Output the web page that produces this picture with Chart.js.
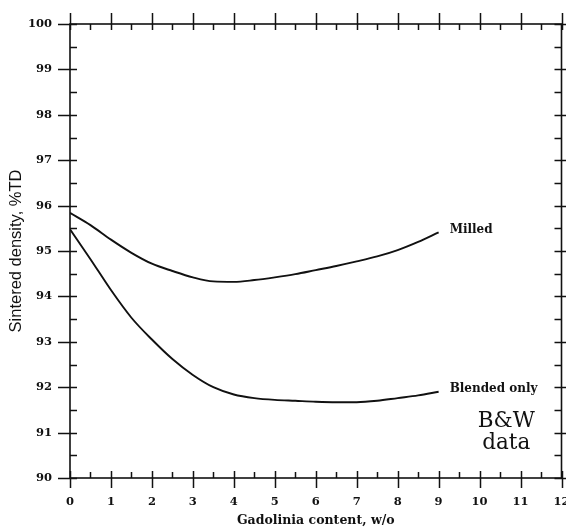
<!DOCTYPE html>
<html>
<head>
<meta charset="utf-8">
<script src="https://cdn.jsdelivr.net/npm/chart.js@4.4.1/dist/chart.umd.min.js"></script>
<style>
  html, body { margin: 0; padding: 0; background: #ffffff; }
  #wrap { width: 566px; height: 529px; }
</style>
</head>
<body>
<div id="wrap"><canvas id="c" width="566" height="529"></canvas></div>
<script>
// ---- data ----
const gadoliniaContent = [0, 0.5, 1, 1.5, 2, 2.5, 3, 3.5, 4, 4.5, 5, 5.5, 6, 6.5, 7, 7.5, 8, 8.5, 9];
const milledDensity = [95.84, 95.57, 95.25, 94.96, 94.72, 94.56, 94.42, 94.33, 94.32, 94.36, 94.42, 94.49, 94.58, 94.67, 94.77, 94.88, 95.02, 95.20, 95.41];
const blendedDensity = [95.48, 94.82, 94.14, 93.53, 93.05, 92.62, 92.27, 92.00, 91.84, 91.76, 91.72, 91.70, 91.68, 91.67, 91.67, 91.70, 91.76, 91.82, 91.90];
const seriesNames = ['Milled', 'Blended only'];
const xTickValues = [0, 1, 2, 3, 4, 5, 6, 7, 8, 9, 10, 11, 12];
const yTickValues = [90, 91, 92, 93, 94, 95, 96, 97, 98, 99, 100];
const xMinorValues = [0.5, 1.5, 2.5, 3.5, 4.5, 5.5, 6.5, 7.5, 8.5, 9.5, 10.5, 11.5];
const yMinorValues = [90.5, 91.5, 92.5, 93.5, 94.5, 95.5, 96.5, 97.5, 98.5, 99.5];
const xTitle = 'Gadolinia content, w/o';
const yTitle = 'Sintered density, %TD';
const sourceNote = ['B&W', 'data'];

function toPoints(xs, ys) { return xs.map((x, i) => ({ x: x, y: ys[i] })); }

// ---- plugin: frame, ticks on all four sides, annotations ----
const framePlugin = {
  id: 'frame',
  afterDatasetsDraw(chart) {
    const ctx = chart.ctx;
    const a = chart.chartArea;
    const xs = chart.scales.x, ys = chart.scales.y;
    ctx.save();
    ctx.strokeStyle = '#111';
    ctx.lineWidth = 1.6;
    ctx.strokeRect(a.left, a.top, a.right - a.left, a.bottom - a.top);
    ctx.lineWidth = 1.5;
    ctx.beginPath();
    xTickValues.forEach(v => {
      const p = Math.round(xs.getPixelForValue(v)) + 0.5;
      ctx.moveTo(p, a.bottom - 7); ctx.lineTo(p, a.bottom + 10);
      ctx.moveTo(p, a.top - 11); ctx.lineTo(p, a.top + 6);
    });
    xMinorValues.forEach(v => {
      const p = Math.round(xs.getPixelForValue(v)) + 0.5;
      ctx.moveTo(p, a.bottom - 6); ctx.lineTo(p, a.bottom);
      ctx.moveTo(p, a.top); ctx.lineTo(p, a.top + 6);
    });
    yTickValues.forEach(v => {
      const p = Math.round(ys.getPixelForValue(v)) + 0.5;
      ctx.moveTo(a.left - 12, p); ctx.lineTo(a.left + 7, p);
      ctx.moveTo(a.right - 7, p); ctx.lineTo(a.right + 6, p);
    });
    yMinorValues.forEach(v => {
      const p = Math.round(ys.getPixelForValue(v)) + 0.5;
      ctx.moveTo(a.left, p); ctx.lineTo(a.left + 7, p);
      ctx.moveTo(a.right - 7, p); ctx.lineTo(a.right, p);
    });
    ctx.stroke();

    // series labels at the end of each curve
    ctx.fillStyle = '#111';
    ctx.font = 'bold 12px "DejaVu Serif"';
    ctx.textAlign = 'left';
    ctx.textBaseline = 'middle';
    chart.data.datasets.forEach(ds => {
      const last = ds.data[ds.data.length - 1];
      ctx.fillText(ds.label, xs.getPixelForValue(last.x) + 11, ys.getPixelForValue(last.y) - 3);
    });

    // source note
    ctx.font = '21.5px "DejaVu Serif"';
    ctx.textAlign = 'center';
    ctx.textBaseline = 'alphabetic';
    const cx = xs.getPixelForValue(10.65);
    ctx.fillText(sourceNote[0], cx, ys.getPixelForValue(91) - 6);
    ctx.fillText(sourceNote[1], cx, ys.getPixelForValue(91) + 16);
    ctx.restore();
  }
};

const tickFont = { family: '"DejaVu Serif"', size: 11.5, weight: 'bold' };

new Chart(document.getElementById('c'), {
  type: 'line',
  data: {
    datasets: [
      { label: seriesNames[0], data: toPoints(gadoliniaContent, milledDensity) },
      { label: seriesNames[1], data: toPoints(gadoliniaContent, blendedDensity) }
    ]
  },
  options: {
    responsive: false,
    animation: false,
    layout: { padding: { top: 24, right: 4.5, left: 0, bottom: 0 } },
    elements: {
      line: { borderColor: '#111', borderWidth: 1.9, tension: 0.4, cubicInterpolationMode: 'monotone', fill: false },
      point: { radius: 0, hoverRadius: 0 }
    },
    plugins: { legend: { display: false }, tooltip: { enabled: false } },
    scales: {
      x: {
        type: 'linear', min: 0, max: 12,
        afterBuildTicks: s => { s.ticks = xTickValues.map(v => ({ value: v })); },
        afterFit: s => { s.height = 51; s.paddingLeft = 0; s.paddingRight = 0; },
        grid: { display: false, drawTicks: false },
        border: { display: false },
        ticks: { color: '#111', font: tickFont, padding: 17, maxRotation: 0, autoSkip: false },
        title: { display: true, text: xTitle, color: '#111',
                 font: { family: '"DejaVu Serif"', size: 12.5, weight: 'bold' },
                 padding: { top: 0, bottom: 1 } }
      },
      y: {
        type: 'linear', min: 90, max: 100,
        afterBuildTicks: s => { s.ticks = yTickValues.map(v => ({ value: v })); },
        afterFit: s => { s.width = 70; s.paddingTop = 0; s.paddingBottom = 0; },
        grid: { display: false, drawTicks: false },
        border: { display: false },
        ticks: { color: '#111', font: tickFont, padding: 18, autoSkip: false },
        title: { display: true, text: yTitle, color: '#111',
                 font: { family: '"Liberation Sans"', size: 16.5, weight: 'normal' },
                 padding: { top: 7, bottom: 0 } }
      }
    }
  },
  plugins: [framePlugin]
});
</script>
</body>
</html>
